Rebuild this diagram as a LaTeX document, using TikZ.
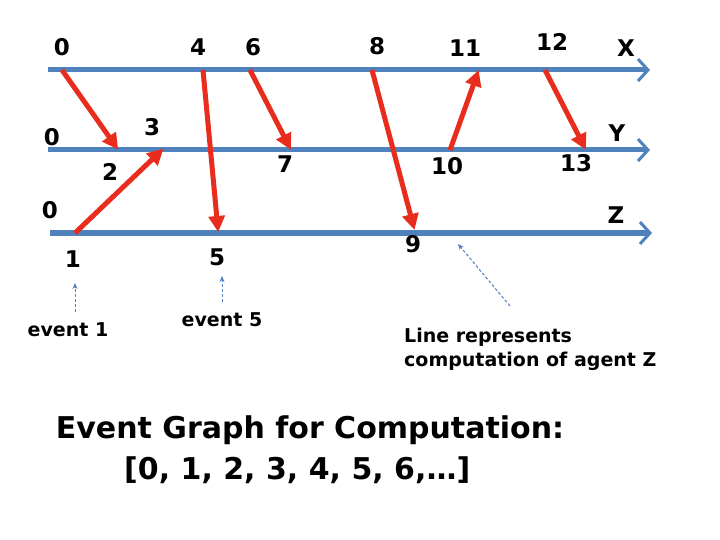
\documentclass[tikz,border=0pt]{standalone}
\usepackage{fontspec}
\setmainfont{DejaVu Sans}
\usetikzlibrary{arrows.meta}
\definecolor{lineblue}{RGB}{79,129,189}
\definecolor{msgred}{RGB}{232,45,30}
\begin{document}
\begin{tikzpicture}[
    x=1pt, y=-1pt,
    agent/.style={draw=lineblue, line width=5pt, -{Straight Barb[length=10pt,width=22pt,line width=3pt]}},
    msg/.style={draw=msgred, line width=5pt, -{Triangle[length=16pt,width=16pt]}, shorten >=-2pt},
    num/.style={font=\bfseries\fontsize{23}{26}\selectfont, inner sep=0pt},
    note/.style={font=\bfseries\fontsize{19}{24}\selectfont, inner sep=0pt, align=left},
    hint/.style={draw=lineblue, densely dashed, line width=1pt, -{Stealth[length=6pt,width=5pt]}}
  ]
  \useasboundingbox (0,0) rectangle (720,540);
  % agent lines
  \coordinate (X0) at (48,70);  \coordinate (X1) at (650,70);
  \coordinate (Y0) at (48,150); \coordinate (Y1) at (650,150);
  \coordinate (Z0) at (50,233); \coordinate (Z1) at (652,233);
  \draw[agent] (X0) -- (X1);
  \draw[agent] (Y0) -- (Y1);
  \draw[agent] (Z0) -- (Z1);
  % events
  \coordinate (e0) at (62,70);   \coordinate (e2) at (117,148);
  \coordinate (e1) at (75,233);  \coordinate (e3) at (162,150);
  \coordinate (e4) at (203,70);  \coordinate (e5) at (218,230);
  \coordinate (e6) at (250,70);  \coordinate (e7) at (290,148);
  \coordinate (e8) at (372,70);  \coordinate (e9) at (414,228);
  \coordinate (e10) at (450,150); \coordinate (e11) at (478,72);
  \coordinate (e12) at (545,70); \coordinate (e13) at (585,148);
  \draw[msg] (e0) -- (e2);
  \draw[msg] (e1) -- (e3);
  \draw[msg] (e4) -- (e5);
  \draw[msg] (e6) -- (e7);
  \draw[msg] (e8) -- (e9);
  \draw[msg] (e10) -- (e11);
  \draw[msg] (e12) -- (e13);
  % labels
  \node[num] (lx0) at (62,47) {0};
  \node[num] (l4) at (198,47) {4};
  \node[num] (l6) at (253,47) {6};
  \node[num] (l8) at (377,46) {8};
  \node[num] (l11) at (465,48) {11};
  \node[num] (l12) at (552,42) {12};
  \node[num] (lX) at (626,48) {X};
  \node[num] (ly0) at (52,137) {0};
  \node[num] (l3) at (152,127) {3};
  \node[num] (l2) at (110,172) {2};
  \node[num] (l7) at (285,164) {7};
  \node[num] (l10) at (447,166) {10};
  \node[num] (l13) at (576,163) {13};
  \node[num] (lY) at (617,133) {Y};
  \node[num] (lz0) at (50,210) {0};
  \node[num] (lZ) at (616,215) {Z};
  \node[num] (l1) at (73,259) {1};
  \node[num] (l5) at (217,257) {5};
  \node[num] (l9) at (413,244) {9};
  % notes
  \node[note] (n1) at (68,330) {event 1};
  \node[note] (n5) at (222,320) {event 5};
  \node[note, anchor=west] (nz) at (404,349) {Line represents\\computation of agent Z};
  \coordinate (h1) at (75,312);
  \coordinate (h5) at (222,302);
  \coordinate (hz) at (510,306);
  \draw[hint] (h1) -- (75,283);
  \draw[hint] (h5) -- (222,276);
  \draw[hint] (hz) -- (458,244);
  % title
  \node[font=\bfseries\fontsize{30}{36}\selectfont, inner sep=0pt] (title) at (310,430) {Event Graph for Computation:};
  \node[font=\bfseries\fontsize{30}{36}\selectfont, inner sep=0pt, anchor=west] (seq) at (124,470) {[0, 1, 2, 3, 4, 5, 6,…]};
\end{tikzpicture}
\end{document}
